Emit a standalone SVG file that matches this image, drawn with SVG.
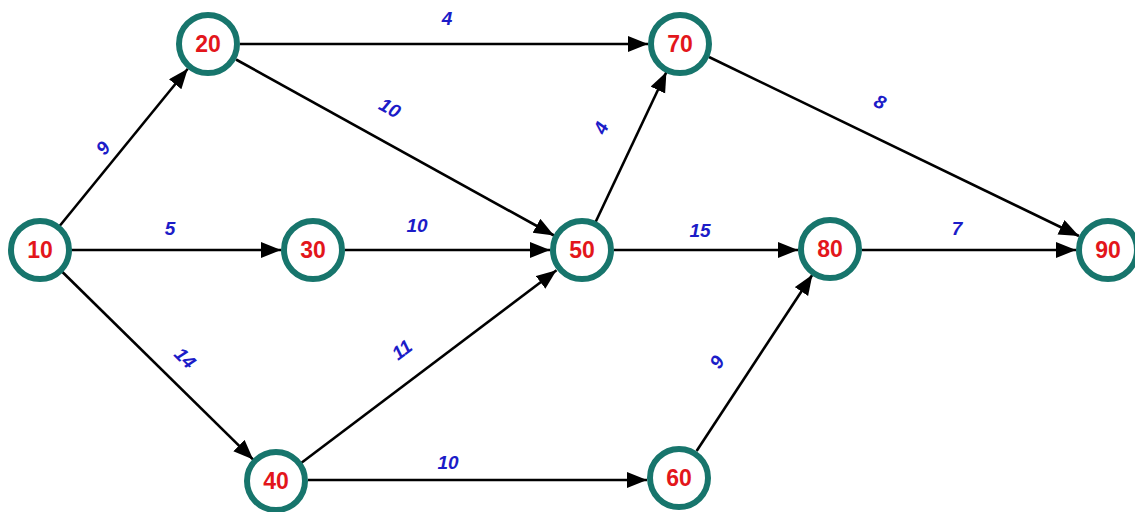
<svg xmlns="http://www.w3.org/2000/svg" width="1135" height="512" viewBox="0 0 1135 512">
<style>
.n circle{fill:#fff;stroke:#17756c;stroke-width:6}
.n text{font-family:"Liberation Sans",Arial,sans-serif;font-weight:bold;font-size:23px;fill:#e3161b;text-anchor:middle;dominant-baseline:central}
.e line{stroke:#000;stroke-width:2.6;marker-end:url(#ah)}
.l text{font-family:"Liberation Sans",Arial,sans-serif;font-weight:bold;font-style:italic;font-size:19px;fill:#1c1cc8;text-anchor:middle;dominant-baseline:central}
</style>
<defs>
<marker id="ah" markerUnits="userSpaceOnUse" markerWidth="22" markerHeight="18" refX="20" refY="8" orient="auto">
<path d="M0,0 L20,8 L0,16 z" fill="#000"/>
</marker>
</defs>
<rect width="1135" height="512" fill="#fff"/>
<g id="connectors" class="e">
<line x1="59" y1="226.7" x2="187.8" y2="68.8"/>
<line x1="70" y1="250" x2="281" y2="250"/>
<line x1="61.4" y1="271" x2="253.2" y2="459.6"/>
<line x1="240" y1="44" x2="648" y2="44"/>
<line x1="236" y1="59.5" x2="554" y2="235.5"/>
<line x1="345" y1="250" x2="550" y2="250"/>
<line x1="301.5" y1="462.7" x2="556.5" y2="270.3"/>
<line x1="308" y1="480" x2="647" y2="480"/>
<line x1="595.6" y1="222" x2="666.4" y2="72"/>
<line x1="614" y1="250" x2="798" y2="250"/>
<line x1="696.6" y1="451" x2="812.4" y2="274.8"/>
<line x1="709" y1="57" x2="1079" y2="236"/>
<line x1="862" y1="250" x2="1076" y2="250"/>
</g>
<g id="labels" class="l">
<text transform="translate(103,148) rotate(-51)">9</text>
<text x="170" y="228">5</text>
<text transform="translate(185,358) rotate(45)">14</text>
<text x="447" y="18">4</text>
<text transform="translate(390,108) rotate(29)">10</text>
<text x="417" y="225">10</text>
<text transform="translate(402,350) rotate(-37)">11</text>
<text x="448" y="462">10</text>
<text transform="translate(601,128) rotate(-65)">4</text>
<text x="700" y="230">15</text>
<text transform="translate(717,362) rotate(-57)">9</text>
<text transform="translate(880,102) rotate(26)">8</text>
<text x="957" y="228">7</text>
</g>
<g id="n10" class="n"><circle cx="40" cy="250" r="29"/><text x="40" y="250">10</text></g>
<g id="n20" class="n"><circle cx="208" cy="44" r="29"/><text x="208" y="44">20</text></g>
<g id="n30" class="n"><circle cx="313" cy="250" r="29"/><text x="313" y="250">30</text></g>
<g id="n40" class="n"><circle cx="276" cy="481" r="29"/><text x="276" y="481">40</text></g>
<g id="n50" class="n"><circle cx="582" cy="250" r="29"/><text x="582" y="250">50</text></g>
<g id="n60" class="n"><circle cx="679" cy="478" r="29"/><text x="679" y="478">60</text></g>
<g id="n70" class="n"><circle cx="680" cy="44" r="29"/><text x="680" y="44">70</text></g>
<g id="n80" class="n"><circle cx="830" cy="249" r="29"/><text x="830" y="249">80</text></g>
<g id="n90" class="n"><circle cx="1108" cy="250" r="29"/><text x="1108" y="250">90</text></g>
</svg>
